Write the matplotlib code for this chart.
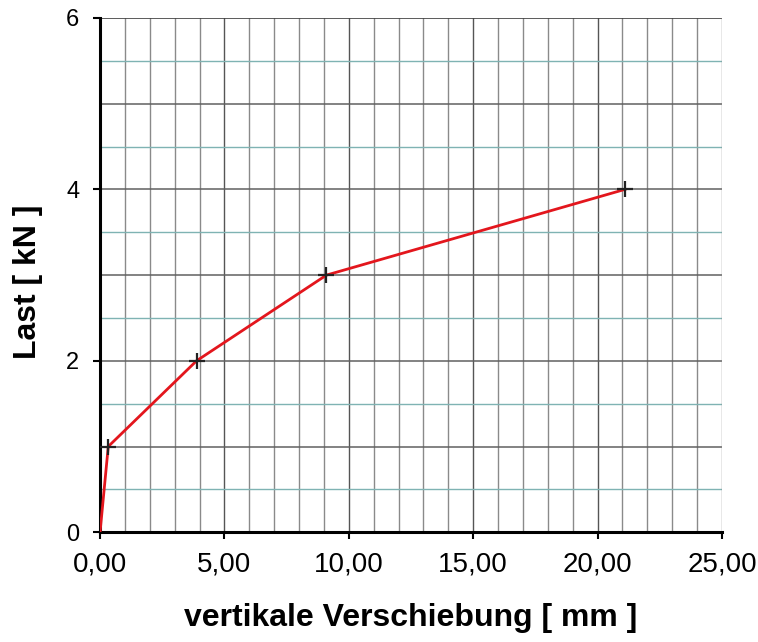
import numpy as np
import matplotlib; matplotlib.use('Agg')
import matplotlib.pyplot as plt

# load-displacement readings
verschiebung = [0.0, 0.33, 3.88, 9.1, 21.1]   # mm
last = [0.0, 1.0, 2.0, 3.0, 4.0]               # kN

x_ticks = [0, 5, 10, 15, 20, 25]
x_labels = ['0,00', '5,00', '10,00', '15,00', '20,00', '25,00']
y_ticks = [0, 2, 4, 6]

plt.rcParams['font.family'] = ['Liberation Sans', 'DejaVu Sans']

fig = plt.figure(figsize=(7.58, 6.42), dpi=100)
ax = fig.add_axes([0.132, 0.171, 0.8205, 0.801])

# grid: every mm vertically, half-kN teal / full-kN dark horizontally
for xv in np.arange(1, 25, 1):
    ax.axvline(xv, color='#8a8a8a' if xv % 5 else '#555555', lw=1.0, zorder=1)
for yv in np.arange(0.5, 6.0, 0.5):
    if yv % 1:
        ax.axhline(yv, color='#7fb3b3', lw=1.0, zorder=1)
    else:
        ax.axhline(yv, color='#606060', lw=1.1, zorder=1)
ax.axhline(6, color='#404040', lw=1.2, zorder=1)
ax.axvline(25, color='#8a8a8a', lw=1.0, zorder=1)

ax.plot(verschiebung, last, color='#e3161d', lw=2, zorder=3)
ax.plot(verschiebung[1:], last[1:], ls='none', marker='+', color='#222222',
        ms=11, mew=1.6, zorder=4)

ax.set_xlim(0, 25)
ax.set_ylim(0, 6)
ax.set_xticks(x_ticks)
ax.set_xticklabels(x_labels)
ax.set_yticks(y_ticks)
ax.tick_params(axis='both', length=5, width=1.5, direction='out', colors='black')
ax.tick_params(axis='x', labelsize=20, pad=9)
ax.tick_params(axis='y', labelsize=17, pad=10)

for s in ['top', 'right']:
    ax.spines[s].set_visible(False)
for s in ['left', 'bottom']:
    ax.spines[s].set_linewidth(2.2)
    ax.spines[s].set_color('black')

ax.set_xlabel('vertikale Verschiebung [ mm ]', fontsize=23, fontweight='bold')
ax.set_ylabel('Last [ kN ]', fontsize=23, fontweight='bold')
ax.xaxis.set_label_coords(0.5, -0.137)
ax.yaxis.set_label_coords(-0.092, 0.486)

fig.savefig('out.png', dpi=100)
